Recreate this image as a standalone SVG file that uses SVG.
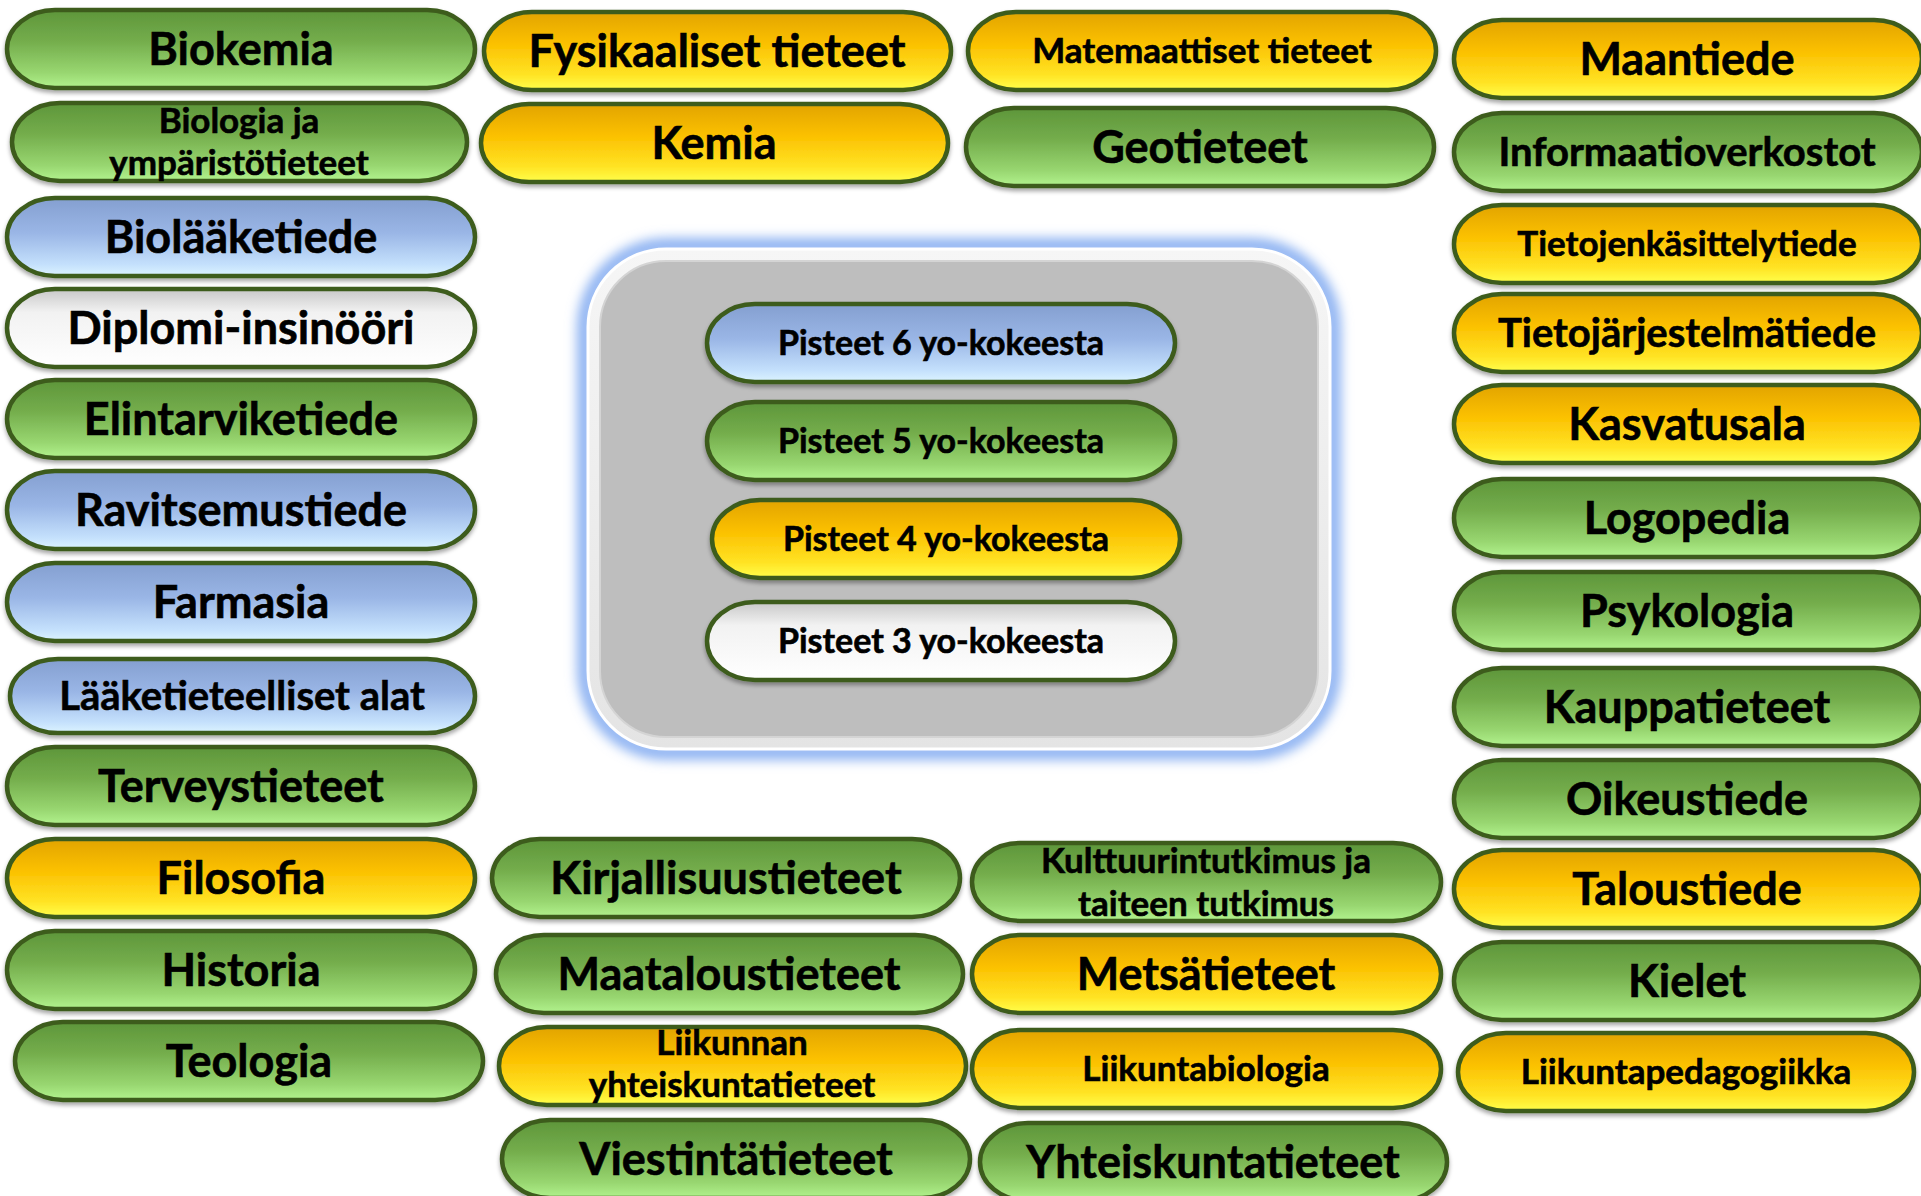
<svg xmlns="http://www.w3.org/2000/svg" width="1921" height="1196" viewBox="0 0 1921 1196">
<defs>
<style>
.t{font-family:Lato,"Liberation Sans",sans-serif;font-weight:700;fill:#000;text-anchor:middle;stroke:#000;stroke-width:0.6}
.b{font-size:45px}
.m{font-size:40px}
.s{font-size:35px}
.q{font-size:34px}
.p{stroke:#3d5c1e;stroke-width:4.5}
.green{fill:url(#gGreen)}
.yellow{fill:url(#gYellow)}
.blue{fill:url(#gBlue)}
.white{fill:url(#gWhite)}
</style>
<linearGradient id="gGreen" x1="0" y1="0" x2="0" y2="1">
<stop offset="0" stop-color="#5e963a"/><stop offset="0.4" stop-color="#74ad4c"/><stop offset="0.8" stop-color="#98d670"/><stop offset="1" stop-color="#b2f38e"/>
</linearGradient>
<linearGradient id="gYellow" x1="0" y1="0" x2="0" y2="1">
<stop offset="0" stop-color="#e2a400"/><stop offset="0.4" stop-color="#fbc000"/><stop offset="0.8" stop-color="#ffe324"/><stop offset="1" stop-color="#ffff4a"/>
</linearGradient>
<linearGradient id="gBlue" x1="0" y1="0" x2="0" y2="1">
<stop offset="0" stop-color="#849fd0"/><stop offset="0.45" stop-color="#9ab6e6"/><stop offset="0.85" stop-color="#c4e0fc"/><stop offset="1" stop-color="#dcf4ff"/>
</linearGradient>
<linearGradient id="gWhite" x1="0" y1="0" x2="0" y2="1">
<stop offset="0" stop-color="#c8c8c8"/><stop offset="0.3" stop-color="#f2f2f2"/><stop offset="1" stop-color="#ffffff"/>
</linearGradient>
<linearGradient id="gRim" x1="0" y1="0" x2="0" y2="1">
<stop offset="0" stop-color="#f6f6f6"/><stop offset="1" stop-color="#e4e4e4"/>
</linearGradient>
<filter id="sh" x="-5%" y="-20%" width="110%" height="150%">
<feDropShadow dx="0" dy="3" stdDeviation="2" flood-color="#000" flood-opacity="0.35"/>
</filter>
<filter id="glow" x="-10%" y="-10%" width="120%" height="120%">
<feGaussianBlur stdDeviation="6"/>
</filter>
</defs>
<rect width="1921" height="1196" fill="#fff"/>

<g id="center-box">
<rect x="585" y="246" width="748" height="506" rx="82" fill="none" stroke="#8db2f2" stroke-width="16" filter="url(#glow)"/>
<rect x="588" y="249" width="742" height="500" rx="78" fill="url(#gRim)" stroke="#fff" stroke-width="3"/>
<rect x="600" y="261" width="718" height="476" rx="66" fill="#bebebe" stroke="#d4d4d4" stroke-width="2"/>
</g>

<g id="connectors"></g>

<g id="nodes">
<g id="n-biokemia"><rect class="p green" filter="url(#sh)" x="7" y="10" width="468" height="78" rx="48" ry="39"/><text class="t b" x="241" y="65">Biokemia</text></g>
<g id="n-biologia"><rect class="p green" filter="url(#sh)" x="12" y="103" width="455" height="78" rx="48" ry="39"/><text class="t s" x="239" y="133">Biologia ja</text><text class="t s" x="239" y="175">ympäristötieteet</text></g>
<g id="n-biolaaketiede"><rect class="p blue" filter="url(#sh)" x="7" y="198" width="468" height="78" rx="48" ry="39"/><text class="t b" x="241" y="253">Biolääketiede</text></g>
<g id="n-diplomi"><rect class="p white" filter="url(#sh)" x="7" y="289" width="468" height="78" rx="48" ry="39"/><text class="t b" x="241" y="344">Diplomi-insinööri</text></g>
<g id="n-elintarvike"><rect class="p green" filter="url(#sh)" x="7" y="380" width="468" height="78" rx="48" ry="39"/><text class="t b" x="241" y="435">Elintarviketiede</text></g>
<g id="n-ravitsemus"><rect class="p blue" filter="url(#sh)" x="7" y="471" width="468" height="78" rx="48" ry="39"/><text class="t b" x="241" y="526">Ravitsemustiede</text></g>
<g id="n-farmasia"><rect class="p blue" filter="url(#sh)" x="7" y="563" width="468" height="78" rx="48" ry="39"/><text class="t b" x="241" y="618">Farmasia</text></g>
<g id="n-laake"><rect class="p blue" filter="url(#sh)" x="10" y="659" width="465" height="74" rx="48" ry="37"/><text class="t m" x="242" y="710">Lääketieteelliset alat</text></g>
<g id="n-terveys"><rect class="p green" filter="url(#sh)" x="7" y="747" width="468" height="78" rx="48" ry="39"/><text class="t b" x="241" y="802">Terveystieteet</text></g>
<g id="n-filosofia"><rect class="p yellow" filter="url(#sh)" x="7" y="839" width="468" height="78" rx="48" ry="39"/><text class="t b" x="241" y="894">Filosofia</text></g>
<g id="n-historia"><rect class="p green" filter="url(#sh)" x="7" y="931" width="468" height="78" rx="48" ry="39"/><text class="t b" x="241" y="986">Historia</text></g>
<g id="n-teologia"><rect class="p green" filter="url(#sh)" x="15" y="1022" width="468" height="78" rx="48" ry="39"/><text class="t b" x="249" y="1077">Teologia</text></g>

<g id="n-fysikaaliset"><rect class="p yellow" filter="url(#sh)" x="484" y="12" width="467" height="78" rx="48" ry="39"/><text class="t b" x="717" y="67">Fysikaaliset tieteet</text></g>
<g id="n-kemia"><rect class="p yellow" filter="url(#sh)" x="481" y="104" width="467" height="78" rx="48" ry="39"/><text class="t b" x="714" y="159">Kemia</text></g>
<g id="n-matemaattiset"><rect class="p yellow" filter="url(#sh)" x="968" y="12" width="468" height="78" rx="48" ry="39"/><text class="t s" x="1202" y="63">Matemaattiset tieteet</text></g>
<g id="n-geotieteet"><rect class="p green" filter="url(#sh)" x="966" y="108" width="468" height="78" rx="48" ry="39"/><text class="t b" x="1200" y="163">Geotieteet</text></g>

<g id="n-maantiede"><rect class="p yellow" filter="url(#sh)" x="1454" y="20" width="468" height="78" rx="48" ry="39"/><text class="t b" x="1687" y="75">Maantiede</text></g>
<g id="n-informaatio"><rect class="p green" filter="url(#sh)" x="1454" y="113" width="468" height="78" rx="48" ry="39"/><text class="t m" x="1687" y="166">Informaatioverkostot</text></g>
<g id="n-tietojenk"><rect class="p yellow" filter="url(#sh)" x="1454" y="205" width="468" height="78" rx="48" ry="39"/><text class="t s" x="1687" y="256">Tietojenkäsittelytiede</text></g>
<g id="n-tietojarj"><rect class="p yellow" filter="url(#sh)" x="1454" y="294" width="468" height="78" rx="48" ry="39"/><text class="t m" x="1687" y="347">Tietojärjestelmätiede</text></g>
<g id="n-kasvatus"><rect class="p yellow" filter="url(#sh)" x="1454" y="385" width="468" height="78" rx="48" ry="39"/><text class="t b" x="1687" y="440">Kasvatusala</text></g>
<g id="n-logopedia"><rect class="p green" filter="url(#sh)" x="1454" y="479" width="468" height="78" rx="48" ry="39"/><text class="t b" x="1687" y="534">Logopedia</text></g>
<g id="n-psykologia"><rect class="p green" filter="url(#sh)" x="1454" y="572" width="468" height="78" rx="48" ry="39"/><text class="t b" x="1687" y="627">Psykologia</text></g>
<g id="n-kauppa"><rect class="p green" filter="url(#sh)" x="1454" y="668" width="468" height="78" rx="48" ry="39"/><text class="t b" x="1687" y="723">Kauppatieteet</text></g>
<g id="n-oikeus"><rect class="p green" filter="url(#sh)" x="1454" y="760" width="468" height="78" rx="48" ry="39"/><text class="t b" x="1687" y="815">Oikeustiede</text></g>
<g id="n-talous"><rect class="p yellow" filter="url(#sh)" x="1454" y="850" width="468" height="78" rx="48" ry="39"/><text class="t b" x="1687" y="905">Taloustiede</text></g>
<g id="n-kielet"><rect class="p green" filter="url(#sh)" x="1454" y="942" width="468" height="78" rx="48" ry="39"/><text class="t b" x="1687" y="997">Kielet</text></g>
<g id="n-liikuntaped"><rect class="p yellow" filter="url(#sh)" x="1458" y="1033" width="456" height="78" rx="48" ry="39"/><text class="t s" x="1686" y="1084">Liikuntapedagogiikka</text></g>

<g id="n-kirjallisuus"><rect class="p green" filter="url(#sh)" x="492" y="839" width="468" height="78" rx="48" ry="39"/><text class="t b" x="726" y="894">Kirjallisuustieteet</text></g>
<g id="n-maatalous"><rect class="p green" filter="url(#sh)" x="496" y="935" width="467" height="78" rx="48" ry="39"/><text class="t b" x="729" y="990">Maataloustieteet</text></g>
<g id="n-liikunnan"><rect class="p yellow" filter="url(#sh)" x="499" y="1027" width="467" height="78" rx="48" ry="39"/><text class="t s" x="732" y="1055">Liikunnan</text><text class="t s" x="732" y="1097">yhteiskuntatieteet</text></g>
<g id="n-viestinta"><rect class="p green" filter="url(#sh)" x="502" y="1120" width="468" height="78" rx="48" ry="39"/><text class="t b" x="736" y="1175">Viestintätieteet</text></g>

<g id="n-kulttuuri"><rect class="p green" filter="url(#sh)" x="972" y="843" width="469" height="78" rx="48" ry="39"/><text class="t s" x="1206" y="873">Kulttuurintutkimus ja</text><text class="t s" x="1206" y="916">taiteen tutkimus</text></g>
<g id="n-metsa"><rect class="p yellow" filter="url(#sh)" x="972" y="935" width="469" height="78" rx="48" ry="39"/><text class="t b" x="1206" y="990">Metsätieteet</text></g>
<g id="n-liikuntabio"><rect class="p yellow" filter="url(#sh)" x="972" y="1030" width="469" height="78" rx="48" ry="39"/><text class="t s" x="1206" y="1081">Liikuntabiologia</text></g>
<g id="n-yhteiskunta"><rect class="p green" filter="url(#sh)" x="980" y="1123" width="467" height="78" rx="48" ry="39"/><text class="t b" x="1213" y="1178">Yhteiskuntatieteet</text></g>

<g id="n-pisteet6"><rect class="p blue" filter="url(#sh)" x="707" y="304" width="468" height="78" rx="48" ry="39"/><text class="t q" x="941" y="355">Pisteet 6 yo-kokeesta</text></g>
<g id="n-pisteet5"><rect class="p green" filter="url(#sh)" x="707" y="402" width="468" height="78" rx="48" ry="39"/><text class="t q" x="941" y="453">Pisteet 5 yo-kokeesta</text></g>
<g id="n-pisteet4"><rect class="p yellow" filter="url(#sh)" x="712" y="500" width="468" height="78" rx="48" ry="39"/><text class="t q" x="946" y="551">Pisteet 4 yo-kokeesta</text></g>
<g id="n-pisteet3"><rect class="p white" filter="url(#sh)" x="707" y="602" width="468" height="78" rx="48" ry="39"/><text class="t q" x="941" y="653">Pisteet 3 yo-kokeesta</text></g>
</g>
</svg>
